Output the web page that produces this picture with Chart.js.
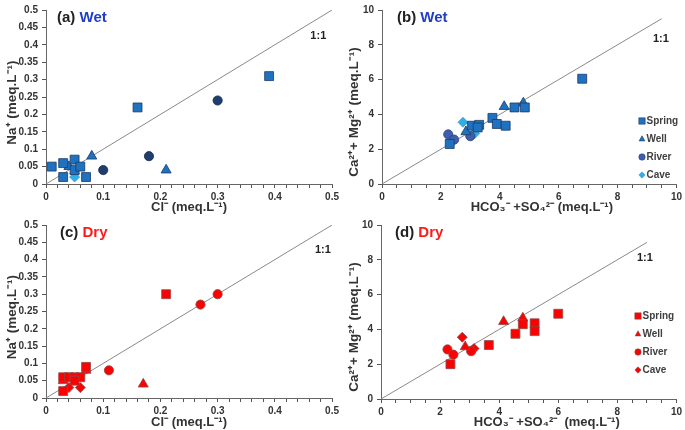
<!DOCTYPE html>
<html>
<head>
<meta charset="utf-8">
<script src="https://cdn.jsdelivr.net/npm/chart.js@4.4.1/dist/chart.umd.min.js"></script>
<style>
  body { margin: 0; background: #fff; width: 685px; height: 430px; position: relative; overflow: hidden; }
  .panel { position: absolute; }
</style>
</head>
<body>
<div class="panel" style="left:0;top:0"><canvas id="chartA" width="342" height="215"></canvas></div>
<div class="panel" style="left:342px;top:0"><canvas id="chartB" width="343" height="215"></canvas></div>
<div class="panel" style="left:0;top:215px"><canvas id="chartC" width="342" height="215"></canvas></div>
<div class="panel" style="left:342px;top:215px"><canvas id="chartD" width="343" height="215"></canvas></div>
<script>
// [x, y] pairs
// (a) wet, Na+ vs Cl-
const wetNaSpring = [[0.01, 0.05], [0.03, 0.06], [0.03, 0.02], [0.05, 0.07], [0.05, 0.04],
                     [0.06, 0.05], [0.07, 0.02], [0.16, 0.22], [0.39, 0.31]];
const wetNaWell   = [[0.04, 0.05], [0.08, 0.08], [0.21, 0.04]];
const wetNaRiver  = [[0.10, 0.04], [0.18, 0.08], [0.30, 0.24]];
const wetNaCave   = [[0.05, 0.03], [0.05, 0.02]];

// (b) wet, Ca+Mg vs HCO3+SO4
const wetCaSpring = [[2.3, 2.3], [3.05, 3.35], [3.3, 3.4], [3.25, 3.25], [3.75, 3.8], [3.9, 3.45],
                     [4.2, 3.35], [4.5, 4.4], [4.85, 4.4], [6.8, 6.05]];
const wetCaWell   = [[2.85, 3.0], [4.15, 4.45], [4.8, 4.65]];
const wetCaRiver  = [[2.25, 2.85], [2.45, 2.55], [3.0, 2.75]];
const wetCaCave   = [[2.75, 3.55], [3.15, 2.9]];

// (c) dry, Na+ vs Cl-
const dryNaSpring = [[0.03, 0.02], [0.03, 0.06], [0.04, 0.06], [0.05, 0.06], [0.06, 0.06],
                     [0.05, 0.05], [0.07, 0.09], [0.21, 0.30]];
const dryNaWell   = [[0.03, 0.05], [0.07, 0.08], [0.17, 0.04]];
const dryNaRiver  = [[0.11, 0.08], [0.27, 0.27], [0.30, 0.30]];
const dryNaCave   = [[0.04, 0.03], [0.06, 0.03]];

// (d) dry, Ca+Mg vs HCO3+SO4
const dryCaSpring = [[2.35, 2.0], [3.65, 3.1], [4.55, 3.75], [4.8, 4.3], [5.2, 4.35], [5.2, 3.9], [6.0, 4.9]];
const dryCaWell   = [[2.85, 3.0], [4.15, 4.45], [4.8, 4.65]];
const dryCaRiver  = [[2.25, 2.85], [2.45, 2.55], [3.05, 2.75]];
const dryCaCave   = [[2.75, 3.55], [3.15, 2.9]];

const seriesNames  = ["Spring", "Well", "River", "Cave"];
const seriesShapes = ["rect", "triangle", "circle", "rectRot"];
const seriesSizes  = [6.3, 5.8, 4.6, 5];

const naTicks = { max: 0.5, minor: 0.02, major: 0.1, yStep: 0.05 };
const caTicks = { max: 10, minor: 0.5, major: 2, yStep: 2 };

const FONT = "'Liberation Sans', Arial, sans-serif";

const toPts = (arr) => arr.map(([x, y]) => ({ x: x, y: y }));
const pad = (n) => "\u00A0".repeat(n);

function drawShape (ctx, shape, x, y, r) {
  ctx.beginPath();
  if (shape === "rect") {
    let s = r * Math.SQRT1_2;
    ctx.rect(x - s, y - s, 2 * s, 2 * s);
  } else if (shape === "triangle") {
    ctx.moveTo(x, y - r);
    ctx.lineTo(x + r * 0.9, y + r * 0.6);
    ctx.lineTo(x - r * 0.9, y + r * 0.6);
    ctx.closePath();
  } else if (shape === "circle") {
    ctx.arc(x, y, r, 0, Math.PI * 2);
  } else {
    ctx.moveTo(x, y - r);
    ctx.lineTo(x + r, y);
    ctx.lineTo(x, y + r);
    ctx.lineTo(x - r, y);
    ctx.closePath();
  }
  ctx.fill();
  ctx.stroke();
}

const labelsPlugin = {
  id: "panelLabels",
  afterDatasetsDraw (chart) {
    let o = chart.options.plugins.panelLabels;
    let ctx = chart.ctx;
    let area = chart.chartArea;
    let xs = chart.scales.x, ys = chart.scales.y;
    ctx.save();
    // panel tag
    ctx.font = "bold 15px " + FONT;
    ctx.textBaseline = "alphabetic";
    ctx.textAlign = "left";
    ctx.fillStyle = "#222";
    let tx = area.left + o.tagDx;
    let ty = area.top + 12;
    ctx.fillText(o.tag + " ", tx, ty);
    let w = ctx.measureText(o.tag + " ").width;
    ctx.fillStyle = o.seasonColor;
    ctx.fillText(o.season, tx + w, ty);
    // 1:1 label
    ctx.font = "bold 11px " + FONT;
    ctx.fillStyle = "#222";
    ctx.textAlign = "center";
    ctx.textBaseline = "middle";
    ctx.fillText("1:1", xs.getPixelForValue(o.ratioAt[0]), ys.getPixelForValue(o.ratioAt[1]));
    // legend
    if (o.legendTop != null) {
      ctx.font = "bold 10px " + FONT;
      ctx.textAlign = "left";
      chart.data.datasets.forEach((ds, i) => {
        if (!ds.label) return;
        let ly = area.top + o.legendTop + (i - 1) * 18;
        let lx = area.left + o.legendLeft;
        ctx.fillStyle = ds.backgroundColor;
        ctx.strokeStyle = ds.borderColor;
        ctx.lineWidth = 0.6;
        drawShape(ctx, ds.pointStyle, lx, ly, ds.pointStyle === "rect" ? 4.5 : 3.2);
        ctx.fillStyle = "#404040";
        ctx.fillText(ds.label, lx + 4.5, ly);
      });
    }
    ctx.restore();
  }
};

function makePanel (id, cfg) {
  let t = cfg.ticks;
  let datasets = [{
    type: "line",
    data: [{ x: 0, y: 0 }, { x: cfg.lineEnd, y: cfg.lineEnd }],
    borderColor: "#8a8a8a",
    borderWidth: 1,
    pointRadius: 0,
    order: 5
  }];
  cfg.series.forEach((s, i) => {
    datasets.push({
      type: "scatter",
      label: seriesNames[i],
      data: toPts(s),
      pointStyle: seriesShapes[i],
      pointRadius: seriesSizes[i],
      pointHoverRadius: seriesSizes[i],
      backgroundColor: cfg.colors[i][0],
      borderColor: cfg.colors[i][1],
      borderWidth: 0.8,
      order: 1
    });
  });

  let isMajor = (v) => Math.abs(v / t.major - Math.round(v / t.major)) < 1e-6;

  new Chart(document.getElementById(id), {
    data: { datasets: datasets },
    plugins: [labelsPlugin],
    options: {
      responsive: false,
      animation: false,
      layout: { padding: { top: cfg.padTop, right: cfg.padRight, left: 0, bottom: 0 } },
      plugins: {
        legend: { display: false },
        tooltip: { enabled: false },
        panelLabels: cfg.labels
      },
      scales: {
        x: {
          type: "linear",
          min: 0,
          max: t.max,
          afterFit: (s) => { s.height = cfg.xHeight; },
          border: { color: "#666", width: 1 },
          grid: { drawOnChartArea: false, drawTicks: true, tickLength: 4, color: "#555", lineWidth: 1 },
          ticks: {
            stepSize: t.minor,
            autoSkip: false,
            maxRotation: 0,
            padding: 3,
            color: "#333",
            font: { family: FONT, size: 10, weight: "bold" },
            callback: (v) => isMajor(v) ? String(Math.round(v * 100) / 100) : ""
          },
          title: {
            display: true,
            text: cfg.xTitle,
            color: "#333",
            padding: { top: 0, bottom: 0 },
            font: { family: FONT, size: 13, weight: "bold" }
          }
        },
        y: {
          type: "linear",
          min: 0,
          max: t.max,
          afterFit: (s) => { s.width = cfg.yWidth; },
          border: { color: "#666", width: 1 },
          grid: { drawOnChartArea: false, drawTicks: true, tickLength: 4, color: "#555" },
          ticks: {
            stepSize: t.yStep,
            autoSkip: false,
            padding: 4,
            color: "#333",
            font: { family: FONT, size: 10, weight: "bold" },
            callback: (v) => String(Math.round(v * 100) / 100)
          },
          title: {
            display: true,
            text: cfg.yTitle,
            color: "#333",
            padding: { top: 4, bottom: 0 },
            font: { family: FONT, size: 13.5, weight: "bold" }
          }
        }
      }
    }
  });
}

const wetColorsA = [["#1f72c0", "#1d3a63"], ["#1f72c0", "#1d3a63"], ["#1f3d6e", "#16294a"], ["#2cb0e8", "#4f95c8"]];
const wetColorsB = [["#1f72c0", "#1d3a63"], ["#1f72c0", "#1d3a63"], ["#3d5fae", "#2a3f78"], ["#2cb0e8", "#4f95c8"]];
const dryColors  = [["#ff0000", "#8a4a4a"], ["#ff0000", "#8a4a4a"], ["#ff0000", "#8a4a4a"], ["#ff0000", "#8a4a4a"]];

const naX = "Cl\u207B (meq.L\u207B\u00B9)";
const naY = "Na\u207A (meq.L\u207B\u00B9)";
const caX = "HCO\u2083\u207B +SO\u2084\u00B2\u207B (meq.L\u207B\u00B9)";
const caXd = "HCO\u2083\u207B +SO\u2084\u00B2\u207B  (meq.L\u207B\u00B9)";
const caY = "Ca\u00B2\u207A+ Mg\u00B2\u207A (meq.L\u207B\u00B9)";

makePanel("chartA", {
  series: [wetNaSpring, wetNaWell, wetNaRiver, wetNaCave], colors: wetColorsA,
  ticks: naTicks, lineEnd: 0.5, xTitle: naX, yTitle: naY + pad(3),
  yWidth: 46, xHeight: 31, padTop: 6, padRight: 8,
  labels: { tag: "(a)", season: "Wet", seasonColor: "#1f3fc4", tagDx: 11, ratioAt: [0.476, 0.426], legendTop: null }
});
makePanel("chartB", {
  series: [wetCaSpring, wetCaWell, wetCaRiver, wetCaCave], colors: wetColorsB,
  ticks: caTicks, lineEnd: 9.5, xTitle: pad(7) + caX, yTitle: caY + pad(8),
  yWidth: 40, xHeight: 31, padTop: 6, padRight: 7,
  labels: { tag: "(b)", season: "Wet", seasonColor: "#1f3fc4", tagDx: 15, ratioAt: [9.47, 8.35], legendTop: 111, legendLeft: 260 }
});
makePanel("chartC", {
  series: [dryNaSpring, dryNaWell, dryNaRiver, dryNaCave], colors: dryColors,
  ticks: naTicks, lineEnd: 0.5, xTitle: naX, yTitle: naY + pad(3),
  yWidth: 46, xHeight: 32, padTop: 6, padRight: 8,
  labels: { tag: "(c)", season: "Dry", seasonColor: "#ff1a1a", tagDx: 14, ratioAt: [0.484, 0.428], legendTop: null }
});
makePanel("chartD", {
  series: [dryCaSpring, dryCaWell, dryCaRiver, dryCaCave], colors: dryColors,
  ticks: caTicks, lineEnd: 9, xTitle: pad(10) + caXd, yTitle: caY + pad(8),
  yWidth: 39, xHeight: 31, padTop: 6, padRight: 7,
  labels: { tag: "(d)", season: "Dry", seasonColor: "#ff1a1a", tagDx: 14, ratioAt: [8.93, 8.09], legendTop: 91, legendLeft: 257 }
});
</script>
</body>
</html>
